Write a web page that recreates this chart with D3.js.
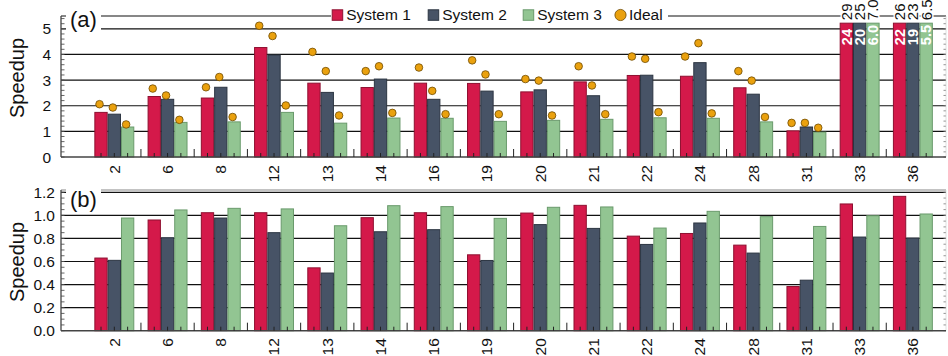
<!DOCTYPE html>
<html>
<head>
<meta charset="utf-8">
<script src="https://cdn.jsdelivr.net/npm/d3@7"></script>
<style>
  body { margin: 0; background: #fff; }
  text { font-family: "Liberation Sans", Arial, sans-serif; fill: #111; }
</style>
</head>
<body>
<script>
const width = 948;
const height = 356;

// data
const categories = ["2", "6", "8", "12", "13", "14", "16", "19", "20", "21", "22", "24", "28", "31", "33", "36"];
const series = ["System 1", "System 2", "System 3"];
const colors = ["#d4194a", "#475366", "#92c592"];
const strokes = ["#8e1030", "#2c3542", "#6a9a6c"];

// (a) speedup
const sys1A = [1.74, 2.36, 2.30, 4.27, 2.88, 2.71, 2.88, 2.87, 2.54, 2.93, 3.18, 3.15, 2.70, 1.02, 24, 22];
const sys2A = [1.67, 2.25, 2.72, 3.98, 2.52, 3.04, 2.25, 2.57, 2.62, 2.39, 3.19, 3.68, 2.45, 1.17, 20, 19];
const sys3A = [1.17, 1.35, 1.37, 1.74, 1.32, 1.52, 1.51, 1.39, 1.43, 1.47, 1.53, 1.51, 1.37, 0.97, 6.0, 5.5];
const ideal1 = [2.06, 2.67, 2.72, 5.12, 4.10, 3.35, 3.49, 3.77, 3.04, 3.54, 3.92, 3.92, 3.35, 1.33, 29, 26];
const ideal2 = [1.93, 2.40, 3.12, 4.72, 3.35, 3.54, 2.58, 3.22, 2.98, 2.79, 3.83, 4.44, 2.98, 1.33, 25, 23];
const ideal3 = [1.27, 1.45, 1.56, 2.01, 1.62, 1.72, 1.67, 1.67, 1.62, 1.67, 1.75, 1.70, 1.56, 1.14, 7.0, 6.5];

// (b) speedup
const sys1B = [0.63, 0.96, 1.023, 1.023, 0.545, 0.98, 1.023, 0.658, 1.02, 1.087, 0.82, 0.843, 0.742, 0.383, 1.099, 1.165];
const sys2B = [0.61, 0.806, 0.977, 0.85, 0.50, 0.858, 0.876, 0.609, 0.92, 0.887, 0.748, 0.934, 0.673, 0.438, 0.812, 0.803];
const sys3B = [0.977, 1.047, 1.061, 1.056, 0.91, 1.084, 1.076, 0.974, 1.07, 1.073, 0.89, 1.035, 0.989, 0.904, 0.997, 1.012];

const ticksA = [0, 1, 2, 3, 4, 5];
const ticksB = [0, 0.2, 0.4, 0.6, 0.8, 1.0, 1.2];

const left = 61, right = 946;
const capA = 5.22; // bars taller than this are cut off

const svg = d3.select("body").append("svg")
  .attr("width", width)
  .attr("height", height);

svg.append("rect").attr("width", width).attr("height", height).attr("fill", "#fff");

const x = d3.scaleBand().domain(categories).range([87.7, 939.5])
  .paddingInner(0.25).paddingOuter(0.125);
const xs = d3.scaleBand().domain(series).range([0, x.bandwidth()]);
const barCenter = (c, s) => x(c) + xs(s) + xs.bandwidth() / 2;

function panel(y, rows, ticks, minorStep, fmt, opt) {
  const g = svg.append("g");
  const [y0, y1] = y.range();
  const dmax = y.domain()[1];

  // grid
  g.selectAll(".grid").data(ticks.filter(t => t > 0)).join("line")
    .attr("x1", left).attr("x2", right)
    .attr("y1", d => y(d)).attr("y2", d => y(d))
    .attr("stroke", "#111").attr("stroke-width", 1.2);
  g.append("line").attr("x1", left).attr("x2", right)
    .attr("y1", y1).attr("y2", y1)
    .attr("stroke", opt.frame).attr("stroke-width", 1.2);

  // minor ticks left & right
  const minors = d3.range(0, dmax + 1e-9, minorStep);
  g.selectAll(".ml").data(minors).join("line")
    .attr("x1", left).attr("x2", left + 3.5)
    .attr("y1", d => y(d)).attr("y2", d => y(d))
    .attr("stroke", "#555").attr("stroke-width", 0.9);
  g.selectAll(".mr").data(minors).join("line")
    .attr("x1", right - 2.5).attr("x2", right)
    .attr("y1", d => y(d)).attr("y2", d => y(d))
    .attr("stroke", "#777").attr("stroke-width", 0.8);
  g.append("line").attr("x1", right).attr("x2", right)
    .attr("y1", y0).attr("y2", y1).attr("stroke", "#ccc").attr("stroke-width", 0.6);

  // bars
  categories.forEach((c, i) => {
    rows.forEach((vals, s) => {
      const v = Math.min(vals[i], opt.cap || Infinity);
      g.append("rect")
        .attr("x", x(c) + xs(series[s]) + 0.5)
        .attr("width", xs.bandwidth() - 1)
        .attr("y", y(v))
        .attr("height", y(0) - y(v))
        .attr("fill", colors[s])
        .attr("stroke", strokes[s])
        .attr("stroke-width", 1);
    });
  });

  // axes lines
  g.append("line").attr("x1", left).attr("x2", left)
    .attr("y1", y0).attr("y2", y1).attr("stroke", "#444").attr("stroke-width", 1.3);
  g.append("line").attr("x1", left).attr("x2", right)
    .attr("y1", y0).attr("y2", y0).attr("stroke", "#444").attr("stroke-width", 1.5);

  // x ticks: small at bar centres, taller between groups
  categories.forEach((c, i) => {
    series.forEach(s => {
      const cx = barCenter(c, s);
      g.append("line").attr("x1", cx).attr("x2", cx)
        .attr("y1", y0).attr("y2", y0 - 4).attr("stroke", "#222").attr("stroke-width", 1);
    });
    if (i < categories.length - 1) {
      const bx = x(c) + x.bandwidth() + x.step() * x.paddingInner() / 2;
      g.append("line").attr("x1", bx).attr("x2", bx)
        .attr("y1", y0).attr("y2", y0 - 8).attr("stroke", "#222").attr("stroke-width", 1);
    }
  });

  // x labels
  g.selectAll(".xl").data(categories).join("text")
    .attr("transform", d => `translate(${x(d) + x.bandwidth() / 2},${y0 + opt.xlab}) rotate(-90)`)
    .attr("text-anchor", "end").attr("dy", "0.35em")
    .attr("font-size", 15.5).text(d => d);

  // y labels
  g.selectAll(".yl").data(ticks).join("text")
    .attr("x", opt.ylab).attr("y", d => y(d)).attr("dy", "0.36em")
    .attr("text-anchor", "end").attr("font-size", 15.5).text(fmt);

  g.append("text")
    .attr("transform", `translate(23.5,${opt.ytitle}) rotate(-90)`)
    .attr("text-anchor", "middle").attr("font-size", 20).text("Speedup");

  // panel tag
  g.append("rect").attr("x", 66).attr("y", opt.tagY - 26).attr("width", 35).attr("height", 31).attr("fill", "#fff");
  g.append("text").attr("x", 70).attr("y", opt.tagY).attr("font-size", 22).text(opt.tag);
  return g;
}

const yA = d3.scaleLinear().domain([0, 5.5]).range([157, 16]);
const yB = d3.scaleLinear().domain([0, 1.22]).range([330.7, 190]);

const gA = panel(yA, [sys1A, sys2A, sys3A], ticksA, 0.2, d3.format("d"),
  { frame: "#111", cap: capA, xlab: 8, ylab: 51, ytitle: 78, tag: "(a)", tagY: 26.5 });
panel(yB, [sys1B, sys2B, sys3B], ticksB, 0.05, d3.format(".1f"),
  { frame: "#888", xlab: 7.5, ylab: 55, ytitle: 262, tag: "(b)", tagY: 206.5 });

// ideal markers; values off the chart are written as text instead
const measured = [sys1A, sys2A, sys3A];
const ideals = [ideal1, ideal2, ideal3];
categories.forEach((c, i) => {
  ideals.forEach((vals, s) => {
    const cx = barCenter(c, series[s]);
    const fmt = s === 2 ? d3.format(".1f") : d3.format("d");
    if (vals[i] <= yA.domain()[1]) {
      gA.append("circle").attr("cx", cx - 1.5).attr("cy", yA(vals[i])).attr("r", 3.8)
        .attr("fill", "#eaa10e").attr("stroke", "#6e4a00").attr("stroke-width", 0.8);
    } else {
      gA.append("text")
        .attr("transform", `translate(${cx},${yA(capA) + 22}) rotate(-90)`)
        .attr("dy", "0.36em").attr("font-size", 14.5).attr("font-weight", "bold")
        .style("fill", "#fff").text(fmt(measured[s][i]));
      gA.append("text")
        .attr("transform", `translate(${cx},${yA(capA) - 3}) rotate(-90)`)
        .attr("dy", "0.36em").attr("font-size", 15)
        .attr("stroke", "#fff").attr("stroke-width", 3).attr("paint-order", "stroke")
        .text(fmt(vals[i]));
    }
  });
});

// legend
const leg = svg.append("g");
leg.append("rect").attr("x", 331).attr("y", 4).attr("width", 337).attr("height", 22).attr("fill", "#fff");
const legX = [331.7, 427.7, 522.7];
series.forEach((s, i) => {
  leg.append("rect").attr("x", legX[i] + 0.5).attr("y", 9.8).attr("width", 10.5).attr("height", 10.5)
    .attr("fill", colors[i]).attr("stroke", strokes[i]).attr("stroke-width", 1);
  leg.append("text").attr("x", legX[i] + 14.5).attr("y", 20.2).attr("font-size", 15.5).text(s);
});
leg.append("circle").attr("cx", 620.5).attr("cy", 15).attr("r", 5.6)
  .attr("fill", "#eaa10e").attr("stroke", "#6e4a00").attr("stroke-width", 0.8);
leg.append("text").attr("x", 629).attr("y", 20.2).attr("font-size", 15.5).text("Ideal");
</script>
</body>
</html>
